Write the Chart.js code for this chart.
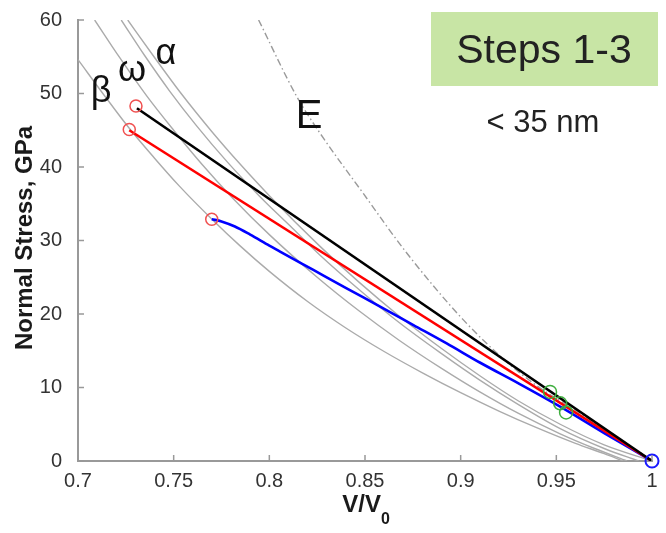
<!DOCTYPE html>
<html>
<head>
<meta charset="utf-8">
<script src="https://cdn.jsdelivr.net/npm/chart.js@4.4.1/dist/chart.umd.min.js"></script>
<style>
  html, body { margin: 0; padding: 0; background: #fff; }
  #wrap { width: 666px; height: 533px; }
</style>
</head>
<body>
<div id="wrap"><canvas id="stressChart" width="666" height="533"></canvas></div>
<script>
// axis ticks
const xTicks = [0.7, 0.75, 0.8, 0.85, 0.9, 0.95, 1];
const yTicks = [0, 10, 20, 30, 40, 50, 60];

// gray EOS curves [V/V0, GPa]
const betaCurve = [[0.700,54.6],[0.715,49.3],[0.727,45.2],[0.740,41.2],[0.753,37.4],[0.770,32.9],[0.785,29.2],[0.800,25.8],[0.820,21.7],[0.840,18.1],[0.860,14.9],[0.880,12.0],[0.900,9.3],[0.920,6.8],[0.940,4.5],[0.960,2.4],[0.975,1.0],[0.985,0]];
const omegaCurve = [[0.7087,60],[0.722,54.8],[0.7361,49.6],[0.750,45.0],[0.765,40.3],[0.780,36.0],[0.800,30.8],[0.825,25.0],[0.847,20.4],[0.868,16.4],[0.890,12.6],[0.910,9.4],[0.930,6.5],[0.952,3.7],[0.970,1.7],[0.987,0]];
const alphaCurve = [[0.7226,60],[0.735,55.1],[0.748,50.3],[0.762,45.6],[0.778,40.7],[0.795,36.0],[0.8108,32.0],[0.8265,28.0],[0.847,23.3],[0.868,18.8],[0.890,14.6],[0.910,11.0],[0.930,7.7],[0.952,4.4],[0.975,1.7],[0.993,0]];
const alpha2Curve = [[0.7260,60],[0.740,54.9],[0.7533,50.2],[0.770,44.8],[0.7847,40.4],[0.800,36.1],[0.8265,29.2],[0.847,24.3],[0.868,19.7],[0.890,15.3],[0.910,11.6],[0.930,8.2],[0.952,5.0],[0.975,2.2],[1.0,0]];
const elasticCurve = [[0.7944,60],[0.8143,49.6],[0.8265,44.6],[0.8491,36.4],[0.8718,28.3],[0.9014,19.2],[0.924,13.5],[0.940,10.2],[0.960,6.9],[0.980,3.5],[1.0,0]];

// measured paths
const blackPath = [[0.7308,48.0],[1.0,0]];
const redPath = [[0.7268,45.0],[1.0,0]];
const bluePath = [[0.7699,32.9],[0.775,32.6],[0.782,31.9],[0.790,30.8],[0.800,29.3],[0.8056,28.5],[0.823,26.0],[0.8404,23.5],[0.8579,21.0],[0.8753,18.5],[0.8927,16.0],[0.910,13.4],[0.930,10.6],[0.952,7.4],[0.975,3.8],[1.0,0]];

// markers
const redMarks = [[0.7303,48.3],[0.7268,45.1],[0.7699,32.9]];
const greenMarks = [[0.9467,9.4],[0.952,7.85],[0.9551,6.6]];
const blueMarks = [[1.0,0]];

const pts = arr => arr.map(p => ({ x: p[0], y: p[1] }));
const ctx = document.getElementById('stressChart').getContext('2d');
const FONT = '"Liberation Sans", Arial, sans-serif';

function grayLine(data) {
    return { data: pts(data), showLine: true, borderColor: '#ababab', borderWidth: 1.4, pointRadius: 0, cubicInterpolationMode: 'monotone', order: 5 };
}

const overlay = {
    id: 'overlay',
    beforeDraw(chart) {
        const c = chart.ctx;
        c.save();
        c.fillStyle = '#c8e5a5';
        c.fillRect(431, 12, 227, 74);
        c.restore();
    },
    afterDraw(chart) {
        const c = chart.ctx;
        const a = chart.chartArea;
        const x = chart.scales.x, y = chart.scales.y;
        c.save();
        c.strokeStyle = '#999';
        c.lineWidth = 1.5;
        xTicks.forEach(v => {
            const px = x.getPixelForValue(v);
            c.beginPath(); c.moveTo(px, a.bottom); c.lineTo(px, a.bottom - 6); c.stroke();
        });
        yTicks.forEach(v => {
            const py = y.getPixelForValue(v);
            c.beginPath(); c.moveTo(a.left, py); c.lineTo(a.left + 6, py); c.stroke();
        });

        c.fillStyle = '#1a1a1a';
        c.textAlign = 'center';
        c.textBaseline = 'alphabetic';
        // y title
        c.save();
        c.translate(32, 238);
        c.rotate(-Math.PI / 2);
        c.font = 'bold 24px ' + FONT;
        c.fillText('Normal Stress, GPa', 0, 0);
        c.restore();
        // x title with subscript
        c.font = 'bold 24px ' + FONT;
        const w1 = c.measureText('V/V').width;
        c.font = 'bold 16px ' + FONT;
        const w2 = c.measureText('0').width;
        const sx = 366 - (w1 + w2) / 2;
        c.textAlign = 'left';
        c.font = 'bold 24px ' + FONT;
        c.fillText('V/V', sx, 512);
        c.font = 'bold 16px ' + FONT;
        c.fillText('0', sx + w1, 524);

        // phase labels
        c.textAlign = 'center';
        c.fillStyle = '#111';
        c.font = '36px ' + FONT;
        c.fillText('\u03B2', 101, 102);
        c.fillText('\u03C9', 132, 81);
        c.fillText('\u03B1', 166, 64);
        c.font = '40px ' + FONT;
        c.fillText('E', 309, 128);
        // box texts
        c.fillStyle = '#222';
        c.font = '41px ' + FONT;
        c.fillText('Steps 1-3', 544, 63);
        c.font = '31px ' + FONT;
        c.fillText('< 35 nm', 543, 132);
        c.restore();
    }
};

new Chart(ctx, {
    type: 'scatter',
    data: {
        datasets: [
            { data: pts(redMarks), pointStyle: 'circle', pointRadius: 6, pointBorderWidth: 1.5, pointBorderColor: '#f05050', pointBackgroundColor: 'rgba(0,0,0,0)', order: 0 },
            { data: pts(greenMarks), pointStyle: 'circle', pointRadius: 6.5, pointBorderWidth: 1.5, pointBorderColor: '#3fae3f', pointBackgroundColor: 'rgba(0,0,0,0)', order: 0 },
            { data: pts(blueMarks), pointStyle: 'circle', pointRadius: 6.5, pointBorderWidth: 2, pointBorderColor: '#1a1aff', pointBackgroundColor: 'rgba(0,0,0,0)', order: 0, clip: false },
            { data: pts(blackPath), showLine: true, borderColor: '#000', borderWidth: 2.6, pointRadius: 0, order: 1 },
            { data: pts(redPath), showLine: true, borderColor: '#ff0000', borderWidth: 2.6, pointRadius: 0, order: 2 },
            { data: pts(bluePath), showLine: true, borderColor: '#0000ff', borderWidth: 2.6, pointRadius: 0, cubicInterpolationMode: 'monotone', order: 3 },
            { data: pts(elasticCurve), showLine: true, borderColor: '#9a9a9a', borderWidth: 1.4, borderDash: [7, 3, 1.5, 3], pointRadius: 0, cubicInterpolationMode: 'monotone', order: 4 },
            grayLine(betaCurve),
            grayLine(omegaCurve),
            grayLine(alphaCurve),
            grayLine(alpha2Curve)
        ]
    },
    options: {
        responsive: false,
        animation: false,
        layout: { padding: { top: 20, right: 14, left: 0, bottom: 0 } },
        plugins: { legend: { display: false }, tooltip: { enabled: false } },
        scales: {
            x: {
                type: 'linear', min: 0.7, max: 1,
                afterFit: s => { s.height = 72; },
                afterBuildTicks: s => { s.ticks = xTicks.map(v => ({ value: v })); },
                grid: { display: false },
                border: { display: true, color: '#999', width: 2 },
                ticks: { padding: 0, color: '#333', font: { family: FONT, size: 20 }, maxRotation: 0, callback: v => String(+v.toFixed(2)) }
            },
            y: {
                type: 'linear', min: 0, max: 60,
                afterFit: s => { s.width = 78; },
                afterBuildTicks: s => { s.ticks = yTicks.map(v => ({ value: v })); },
                grid: { display: false },
                border: { display: true, color: '#999', width: 2 },
                ticks: { padding: 8, color: '#333', font: { family: FONT, size: 20 } }
            }
        }
    },
    plugins: [overlay]
});
</script>
</body>
</html>
